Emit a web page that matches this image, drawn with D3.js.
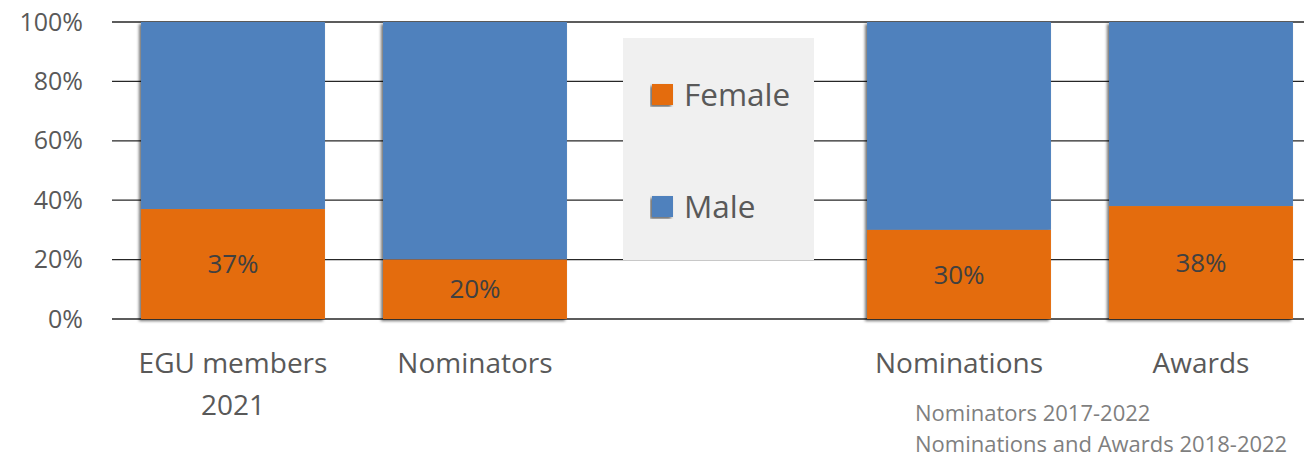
<!DOCTYPE html>
<html>
<head>
<meta charset="utf-8">
<script src="https://cdn.jsdelivr.net/npm/d3@7/dist/d3.min.js"></script>
<style>
  body { margin: 0; background: #fff; overflow: hidden; }
  svg { display: block; font-family: "Open Sans", Lato, sans-serif; }
</style>
</head>
<body>
<div id="viz"></div>
<script>
//Datos
const categories = ['EGU members|2021', 'Nominators', '', 'Nominations', 'Awards'];
const female = [37, 20, null, 30, 38];
const male = [63, 80, null, 70, 62];
const yTicks = [0, 20, 40, 60, 80, 100];
const seriesNames = ['Female', 'Male'];
const footnotes = ['Nominators 2017-2022', 'Nominations and Awards 2018-2022'];

//Colores fijos
const COLOR_FEMALE = '#e46c0a',
COLOR_MALE = '#4f81bd',
COLOR_TEXT = '#595959';

let margin = {top: 22, right: 0, bottom: 141, left: 112},
    width = 1304 - margin.left - margin.right,
    height = 460 - margin.top - margin.bottom;

let svg = d3.select('#viz')
    .append('svg')
        .attr('width', 1304)
        .attr('height', 460);

let defs = svg.append('defs');
defs.append('filter')
    .attr('id', 'shadow')
    .attr('x', '-5%').attr('y', '-5%').attr('width', '110%').attr('height', '110%')
    .append('feDropShadow')
        .attr('dx', -2).attr('dy', 2)
        .attr('stdDeviation', 1.5)
        .attr('flood-color', '#000')
        .attr('flood-opacity', 0.55);

let g = svg.append('g')
    .attr('transform', 'translate(' + margin.left + ',' + margin.top + ')');

let x = d3.scaleBand()
    .domain(d3.range(categories.length))
    .range([0, 1210])
    .paddingInner(0.24)
    .paddingOuter(0.12);

let y = d3.scaleLinear()
    .domain([0, 100])
    .range([height, 0]);

//Rejilla
g.append('g')
    .selectAll('line')
    .data(yTicks)
    .enter()
    .append('line')
        .attr('x1', 0)
        .attr('x2', width)
        .attr('y1', d => y(d))
        .attr('y2', d => y(d))
        .attr('stroke', '#262626')
        .attr('stroke-width', 1.3);

//Eje Y
let yAxis = g.append('g')
    .call(d3.axisLeft(y).tickValues(yTicks).tickFormat(d => d + '%').tickSize(0).tickPadding(29));
yAxis.select('.domain').remove();
yAxis.selectAll('text')
    .attr('fill', COLOR_TEXT)
    .style('font-size', '25px')
    .style('font-family', '"Open Sans", Lato, sans-serif');

//Barras
let stacks = categories.map((c, i) => ({i: i, f: female[i], m: male[i]})).filter(d => d.f != null);

let bars = g.append('g').selectAll('g')
    .data(stacks)
    .enter()
    .append('g')
    .attr('filter', 'url(#shadow)');

bars.append('rect')
    .attr('x', d => x(d.i))
    .attr('width', x.bandwidth())
    .attr('y', d => y(d.f + d.m))
    .attr('height', d => y(d.f) - y(d.f + d.m))
    .attr('fill', COLOR_MALE);

bars.append('rect')
    .attr('x', d => x(d.i))
    .attr('width', x.bandwidth())
    .attr('y', d => y(d.f))
    .attr('height', d => y(0) - y(d.f))
    .attr('fill', COLOR_FEMALE);

g.append('g').selectAll('text')
    .data(stacks)
    .enter()
    .append('text')
        .attr('x', d => x(d.i) + x.bandwidth() / 2)
        .attr('y', d => (y(d.f) + y(0)) / 2)
        .attr('dy', '0.35em')
        .attr('text-anchor', 'middle')
        .attr('fill', '#404040')
        .style('font-size', '26px')
        .text(d => d.f + '%');

//Etiquetas eje X
let xl = g.append('g').selectAll('text')
    .data(categories)
    .enter()
    .append('text')
        .attr('x', (d, i) => x(i) + x.bandwidth() / 2)
        .attr('y', height + 54)
        .attr('text-anchor', 'middle')
        .attr('fill', COLOR_TEXT)
        .style('font-size', '28px');

xl.selectAll('tspan')
    .data(d => d ? d.split('|') : [])
    .enter()
    .append('tspan')
        .attr('x', function() { return this.parentNode.getAttribute('x'); })
        .attr('dy', (d, i) => i == 0 ? 0 : 42)
        .text(d => d);

//Leyenda
let legend = svg.append('g').attr('transform', 'translate(623,38)');
legend.append('rect')
    .attr('width', 191)
    .attr('height', 222)
    .attr('fill', '#f0f0f0');

let colors = [COLOR_FEMALE, COLOR_MALE];
let items = legend.selectAll('.item')
    .data(seriesNames)
    .enter()
    .append('g')
    .attr('transform', (d, i) => 'translate(29,' + (46 + i * 112) + ')');

items.append('rect')
    .attr('width', 21)
    .attr('height', 21)
    .attr('fill', (d, i) => colors[i])
    .attr('filter', 'url(#shadow)');

items.append('text')
    .attr('x', 32)
    .attr('y', 10.5)
    .attr('dy', '0.36em')
    .attr('fill', COLOR_TEXT)
    .style('font-size', '31.5px')
    .text(d => d);

//Notas
svg.append('g').selectAll('text')
    .data(footnotes)
    .enter()
    .append('text')
        .attr('x', 915)
        .attr('y', (d, i) => 421 + i * 31)
        .attr('fill', '#7f7f7f')
        .style('font-size', '22px')
        .text(d => d);
</script>
</body>
</html>
